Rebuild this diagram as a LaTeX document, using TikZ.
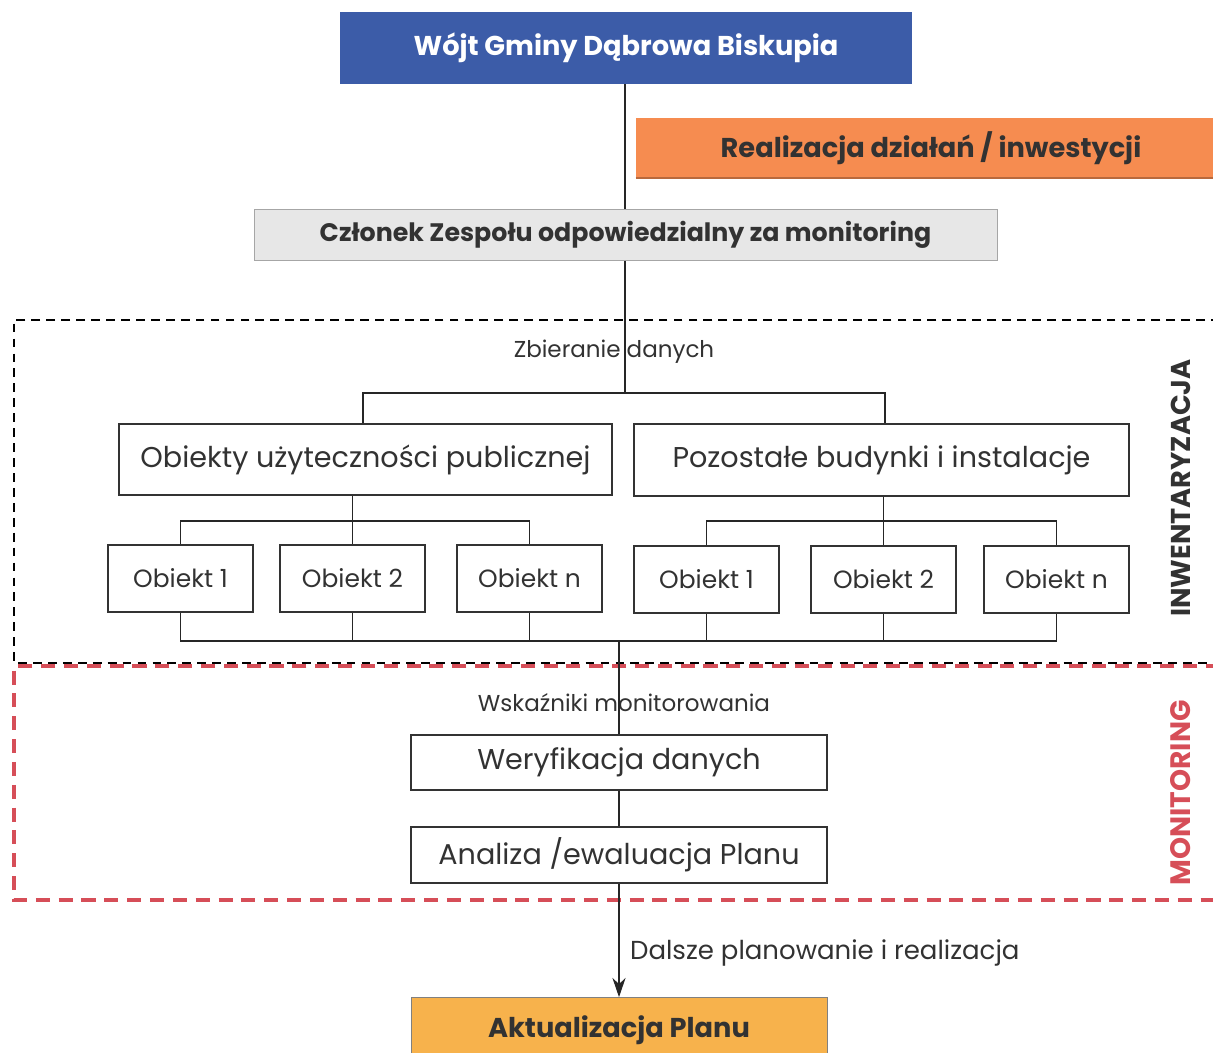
\documentclass[tikz,border=0pt]{standalone}
\usepackage{fontspec}
\setmainfont{Poppins}
\usetikzlibrary{arrows.meta}
\definecolor{wojtblue}{RGB}{60,92,168}
\definecolor{realorange}{RGB}{246,140,80}
\definecolor{aktorange}{RGB}{247,178,76}
\definecolor{czlgray}{RGB}{231,231,231}
\definecolor{monred}{RGB}{214,78,88}
\definecolor{txtgray}{RGB}{50,50,50}

\begin{document}
\begin{tikzpicture}[x=0.02cm, y=-0.02cm,
	conn/.style={draw=black!85, line width=0.7pt},
	box/.style={draw=black!80, rectangle, line width=0.8pt, inner sep=0pt, font=\fontsize{16.3}{19}\selectfont, text=txtgray},
	small/.style={box, minimum width=2.9cm, minimum height=1.34cm, font=\fontsize{14.2}{17}\selectfont},
	lbl/.style={inner sep=1pt, font=\fontsize{13.1}{16}\selectfont, text=txtgray},
	head/.style={rectangle, inner sep=0pt, font=\bfseries\fontsize{15.5}{18}\selectfont}]
			\clip (0,0) rectangle (1213,1052);
			\node[head, fill=wojtblue, text=white, minimum width=11.44cm, minimum height=1.44cm] (wojt) at (626,48) {Wójt Gminy Dąbrowa Biskupia};
			\node[head, fill=realorange, text=txtgray, minimum width=11.8cm, minimum height=1.2cm] (real) at (931,148) {Realizacja działań / inwestycji};
			\draw[realorange!75!black, line width=1pt] (real.south west) -- (real.south east);
			\node[head, fill=czlgray, draw=black!35, text=txtgray, minimum width=14.86cm, minimum height=1.02cm, font=\bfseries\fontsize{14.4}{17}\selectfont] (czlonek) at (625.5,235) {Członek Zespołu odpowiedzialny za monitoring};
			
			\draw[dashed, dash pattern=on 5pt off 3.5pt, line width=0.6pt] (1220,320) -- (14,320) -- (14,663) -- (1220,663);
			\draw[monred, line width=2.2pt, dash pattern=on 8pt off 5pt] (1220,666) -- (14,666) -- (14,900) -- (1220,900);
			
			\node[lbl] (zbier) at (614,352) {Zbieranie danych};
			\node[box, minimum width=9.86cm, minimum height=1.42cm] (obiekty) at (365.5,459.5) {Obiekty użyteczności publicznej};
			\node[box, minimum width=9.9cm, minimum height=1.44cm] (pozost) at (881.5,460) {Pozostałe budynki i instalacje};
			\node[small] (lob1) at (180.5,578.5) {Obiekt 1};
			\node[small] (lob2) at (352.5,578.5) {Obiekt 2};
			\node[small] (lobn) at (529.5,578.5) {Obiekt n};
			\node[small] (rob1) at (706.5,579.5) {Obiekt 1};
			\node[small] (rob2) at (883.5,579.5) {Obiekt 2};
			\node[small] (robn) at (1056.5,579.5) {Obiekt n};
			\node[lbl] (wskaz) at (624,703) {Wskaźniki monitorowania};
			\node[box, minimum width=8.32cm, minimum height=1.1cm] (weryf) at (619,762.5) {Weryfikacja danych};
			\node[box, minimum width=8.32cm, minimum height=1.12cm] (analiza) at (619,855) {Analiza /ewaluacja Planu};
			\node[lbl, anchor=west, font=\fontsize{14.8}{17}\selectfont] (dalsze) at (628,953) {Dalsze planowanie i realizacja};
			\node[head, fill=aktorange, draw=black!50, text=txtgray, minimum width=8.32cm, minimum height=1.3cm] (aktual) at (619,1030) {Aktualizacja Planu};
			\node[head, rotate=90, text=txtgray] (inw) at (1181,488) {INWENTARYZACJA};
			\node[head, rotate=90, text=monred, font=\bfseries\fontsize{16}{19}\selectfont] (monit) at (1181,793) {MONITORING};
			
			\coordinate (split) at (625,393);
			\coordinate (lsplit) at (363,393);
			\coordinate (rsplit) at (885,393);
			\coordinate (lbus) at (352.5,521);
			\coordinate (rbus) at (883.5,521);
			\coordinate (bbus) at (619,641);
			
			\draw[conn] (wojt.south -| split) -- (czlonek.north -| split);
			\draw[conn] (czlonek.south -| split) -- (split);
			\draw[conn] (obiekty.north -| lsplit) -- (lsplit) -- (rsplit) -- (pozost.north -| rsplit);
			\draw[conn] (obiekty.south -| lbus) -- (lob2.north);
			\draw[conn] (lob1.north) |- (lbus) -| (lobn.north);
			\draw[conn] (pozost.south -| rbus) -- (rob2.north);
			\draw[conn] (rob1.north) |- (rbus) -| (robn.north);
			\draw[conn] (lob1.south) |- (bbus) -| (robn.south);
			\draw[conn] (lob2.south) -- (lob2.south |- bbus);
			\draw[conn] (lobn.south) -- (lobn.south |- bbus);
			\draw[conn] (rob1.south) -- (rob1.south |- bbus);
			\draw[conn] (rob2.south) -- (rob2.south |- bbus);
			\draw[conn] (bbus) -- (weryf.north);
			\draw[conn] (weryf) -- (analiza);
			\draw[conn, -{Stealth[length=11pt, width=7.5pt]}] (analiza) -- (aktual);
\end{tikzpicture}
\end{document}
